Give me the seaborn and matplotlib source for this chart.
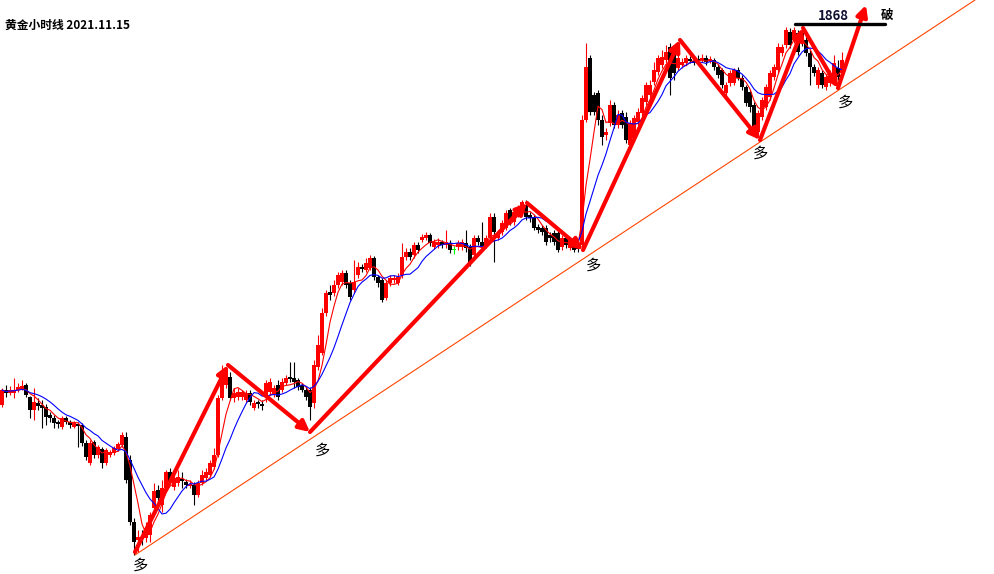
import numpy as np
import pandas as pd
import seaborn as sns
import matplotlib.pyplot as plt

# hourly gold candles (price in USD)
opens = [
    1792.0, 1795.0, 1794.4, 1794.4, 1795.0, 1795.2, 1796.0, 1793.6, 1791.0, 1792.4,
    1792.0, 1791.6, 1790.0, 1789.4, 1788.6, 1787.6, 1789.4, 1788.6, 1787.6, 1788.2,
    1788.0, 1784.4, 1780.4, 1784.6, 1782.0, 1783.2, 1780.4, 1782.0, 1782.4, 1783.2,
    1784.0, 1785.6, 1781.0, 1768.6, 1765.0, 1765.6, 1765.4, 1766.0, 1771.4, 1775.0,
    1772.0, 1775.4, 1778.6, 1775.6, 1776.4, 1777.2, 1776.6, 1775.8, 1776.0, 1774.0,
    1776.4, 1777.4, 1778.0, 1779.6, 1782.0, 1793.4, 1796.0, 1797.6, 1793.4, 1793.6,
    1793.6, 1793.0, 1794.4, 1791.4, 1792.6, 1792.2, 1793.6, 1794.6, 1794.0, 1796.0,
    1795.0, 1796.4, 1797.6, 1797.4, 1797.0, 1796.0, 1795.0, 1795.0, 1792.4, 1799.6,
    1802.4, 1810.4, 1814.6, 1814.4, 1816.0, 1816.6, 1818.4, 1816.4, 1815.0, 1818.0,
    1819.6, 1819.0, 1819.4, 1821.4, 1817.6, 1817.0, 1813.4, 1816.4, 1817.0, 1816.4,
    1818.0, 1821.6, 1822.6, 1822.0, 1824.0, 1825.0, 1825.4, 1826.0, 1823.6, 1824.0,
    1824.6, 1824.0, 1824.4, 1823.0, 1823.6, 1823.6, 1824.4, 1823.6, 1822.0, 1825.4,
    1824.6, 1824.0, 1825.4, 1829.6, 1825.4, 1826.6, 1827.4, 1831.0, 1828.6, 1830.0,
    1831.4, 1832.0, 1830.0, 1829.6, 1827.6, 1827.4, 1827.4, 1826.0, 1826.4, 1826.4,
    1823.6, 1825.4, 1823.4, 1824.6, 1823.6, 1824.0, 1849.0, 1861.4, 1854.0, 1854.4,
    1849.0, 1846.0, 1848.4, 1852.0, 1848.0, 1850.4, 1849.6, 1844.0, 1845.4, 1848.6,
    1850.4, 1852.6, 1854.0, 1856.6, 1858.6, 1860.0, 1861.0, 1863.6, 1862.0, 1859.4,
    1860.0, 1860.4, 1861.2, 1860.8, 1861.2, 1861.0, 1861.4, 1860.8, 1861.0, 1859.6,
    1859.0, 1854.4, 1856.4, 1856.4, 1859.0, 1857.4, 1855.6, 1854.6, 1852.0, 1846.6,
    1849.6, 1851.6, 1853.6, 1857.6, 1859.0, 1862.4, 1864.0, 1866.6, 1865.0, 1866.4,
    1866.4, 1865.0, 1862.4, 1859.6, 1856.0, 1858.4, 1855.6, 1856.4, 1857.4, 1859.4,
    1858.4]
closes = [
    1795.0, 1794.4, 1795.0, 1795.0, 1795.6, 1795.8, 1794.0, 1791.0, 1792.6, 1791.8,
    1791.4, 1789.6, 1789.4, 1788.4, 1788.2, 1789.4, 1788.6, 1788.0, 1788.4, 1787.8,
    1784.4, 1781.6, 1784.4, 1782.0, 1783.6, 1780.4, 1783.0, 1782.6, 1783.4, 1784.2,
    1786.0, 1777.0, 1768.6, 1764.6, 1765.6, 1765.2, 1767.4, 1770.0, 1774.8, 1773.4,
    1775.4, 1778.6, 1776.6, 1777.4, 1777.6, 1776.8, 1776.0, 1776.2, 1774.0, 1776.4,
    1778.0, 1778.6, 1780.4, 1782.0, 1793.4, 1797.4, 1797.6, 1793.4, 1794.4, 1794.6,
    1794.6, 1794.4, 1792.6, 1792.4, 1792.2, 1791.8, 1796.4, 1796.6, 1795.4, 1793.6,
    1796.6, 1797.4, 1797.2, 1796.6, 1795.6, 1795.0, 1793.6, 1791.6, 1800.0, 1804.0,
    1810.4, 1814.4, 1814.0, 1816.0, 1818.0, 1818.4, 1816.0, 1813.6, 1816.6, 1819.6,
    1819.2, 1820.4, 1821.4, 1817.6, 1816.4, 1813.0, 1816.4, 1817.4, 1817.4, 1817.6,
    1821.6, 1822.6, 1821.6, 1824.0, 1823.0, 1825.6, 1826.0, 1824.4, 1824.6, 1824.6,
    1824.0, 1824.6, 1823.0, 1823.0, 1824.4, 1824.6, 1823.4, 1820.4, 1825.4, 1824.6,
    1823.6, 1825.4, 1829.6, 1826.6, 1826.4, 1828.4, 1830.4, 1828.6, 1830.6, 1831.4,
    1832.6, 1829.6, 1829.4, 1827.4, 1827.0, 1826.6, 1824.6, 1825.4, 1824.6, 1823.0,
    1825.4, 1824.0, 1825.0, 1823.0, 1823.2, 1849.0, 1859.6, 1850.6, 1850.6, 1849.0,
    1845.6, 1846.6, 1852.0, 1848.0, 1850.0, 1848.0, 1845.0, 1848.4, 1849.4, 1850.6,
    1853.4, 1856.0, 1856.0, 1859.0, 1861.4, 1861.6, 1862.6, 1857.4, 1858.4, 1861.4,
    1860.6, 1861.4, 1860.8, 1860.4, 1860.8, 1861.4, 1860.6, 1861.2, 1859.6, 1858.0,
    1856.0, 1856.0, 1858.4, 1859.0, 1857.4, 1855.6, 1852.4, 1851.6, 1847.6, 1850.4,
    1853.0, 1855.6, 1858.4, 1859.6, 1863.6, 1863.6, 1867.0, 1864.0, 1867.0, 1862.6,
    1864.4, 1862.4, 1859.6, 1858.4, 1859.0, 1856.0, 1857.6, 1858.4, 1860.4, 1857.6,
    1861.0]
highs = [
    1795.4, 1796.0, 1795.8, 1797.4, 1796.4, 1797.0, 1796.4, 1793.8, 1795.4, 1793.4,
    1793.0, 1792.2, 1790.6, 1790.0, 1789.0, 1789.8, 1789.8, 1789.0, 1788.8, 1788.6,
    1788.4, 1785.0, 1785.0, 1785.0, 1784.0, 1783.6, 1783.4, 1783.0, 1783.8, 1784.6,
    1786.6, 1786.6, 1782.0, 1769.4, 1767.0, 1767.0, 1768.6, 1770.6, 1776.4, 1776.0,
    1777.0, 1779.0, 1779.4, 1778.0, 1779.0, 1778.6, 1777.2, 1777.0, 1776.6, 1777.0,
    1779.0, 1779.4, 1781.0, 1783.4, 1794.0, 1800.0, 1798.6, 1798.6, 1795.4, 1795.4,
    1795.0, 1795.0, 1795.0, 1793.0, 1793.0, 1793.0, 1797.0, 1797.4, 1796.0, 1797.0,
    1797.4, 1798.0, 1800.6, 1800.6, 1797.4, 1796.4, 1795.8, 1795.6, 1801.0, 1806.0,
    1811.4, 1815.0, 1816.0, 1817.0, 1818.6, 1819.0, 1819.0, 1817.0, 1821.0, 1820.6,
    1820.2, 1821.4, 1822.0, 1821.8, 1818.0, 1817.4, 1817.0, 1818.0, 1818.0, 1818.4,
    1824.4, 1823.4, 1823.4, 1824.6, 1824.6, 1826.2, 1826.6, 1826.4, 1825.2, 1825.4,
    1825.0, 1827.0, 1825.0, 1823.8, 1825.0, 1825.2, 1827.0, 1824.2, 1826.0, 1826.0,
    1828.6, 1826.0, 1830.4, 1830.4, 1827.0, 1829.0, 1831.0, 1831.4, 1831.0, 1832.0,
    1833.0, 1833.0, 1830.6, 1830.0, 1828.2, 1828.0, 1828.0, 1826.6, 1827.0, 1827.0,
    1826.0, 1826.0, 1825.6, 1825.0, 1824.2, 1850.0, 1864.4, 1862.0, 1854.6, 1855.0,
    1850.0, 1847.4, 1853.0, 1852.6, 1851.0, 1851.0, 1850.6, 1849.0, 1850.0, 1851.4,
    1854.0, 1856.6, 1857.0, 1860.6, 1862.0, 1863.0, 1864.0, 1864.4, 1862.6, 1862.0,
    1861.4, 1862.0, 1861.8, 1861.4, 1862.0, 1862.2, 1862.0, 1861.8, 1861.4, 1860.2,
    1859.4, 1856.6, 1859.0, 1859.4, 1859.6, 1858.0, 1856.0, 1855.0, 1852.6, 1851.0,
    1853.6, 1856.2, 1859.0, 1860.2, 1864.4, 1864.2, 1867.6, 1867.4, 1867.6, 1867.0,
    1867.0, 1865.6, 1863.0, 1860.2, 1859.6, 1859.0, 1858.2, 1859.0, 1862.0, 1861.0,
    1862.6]
lows = [
    1791.6, 1793.6, 1794.0, 1793.4, 1794.6, 1795.0, 1793.6, 1789.4, 1789.0, 1791.0,
    1787.4, 1788.0, 1788.6, 1787.4, 1787.4, 1787.2, 1788.2, 1787.4, 1787.4, 1783.6,
    1783.8, 1781.0, 1780.0, 1781.4, 1781.4, 1779.4, 1780.0, 1781.6, 1782.0, 1782.8,
    1783.6, 1776.4, 1768.0, 1762.0, 1762.6, 1764.0, 1764.6, 1764.6, 1771.0, 1772.0,
    1770.6, 1775.0, 1776.2, 1775.0, 1775.8, 1775.4, 1775.4, 1775.4, 1772.0, 1773.6,
    1776.0, 1777.0, 1777.6, 1779.2, 1781.6, 1793.0, 1795.4, 1793.0, 1792.6, 1793.0,
    1793.0, 1792.6, 1792.0, 1791.0, 1791.4, 1791.0, 1792.6, 1794.0, 1793.6, 1793.0,
    1794.6, 1796.0, 1796.6, 1795.4, 1795.0, 1794.6, 1793.0, 1789.0, 1791.4, 1799.0,
    1802.0, 1809.8, 1813.0, 1813.8, 1815.4, 1816.0, 1815.4, 1813.0, 1814.4, 1817.4,
    1818.6, 1818.6, 1819.0, 1817.0, 1815.6, 1812.6, 1813.0, 1815.8, 1816.4, 1816.0,
    1817.4, 1821.0, 1821.0, 1821.4, 1822.4, 1824.6, 1825.0, 1823.8, 1823.2, 1823.4,
    1823.4, 1823.4, 1822.4, 1822.2, 1823.0, 1823.0, 1822.6, 1819.8, 1821.6, 1824.0,
    1823.0, 1823.4, 1825.0, 1820.6, 1825.0, 1826.0, 1827.0, 1828.0, 1828.0, 1829.6,
    1831.0, 1829.0, 1828.6, 1827.0, 1826.4, 1826.0, 1824.0, 1824.6, 1824.0, 1822.6,
    1823.0, 1823.4, 1823.0, 1822.6, 1822.6, 1823.0, 1848.6, 1850.0, 1850.0, 1848.0,
    1844.0, 1845.0, 1847.8, 1847.4, 1847.4, 1847.4, 1844.4, 1843.0, 1844.6, 1848.0,
    1849.8, 1852.0, 1853.4, 1856.0, 1858.0, 1859.4, 1860.4, 1854.0, 1857.0, 1859.0,
    1859.4, 1860.0, 1860.4, 1860.0, 1860.4, 1860.6, 1860.0, 1860.4, 1859.0, 1857.4,
    1855.4, 1853.8, 1855.8, 1856.0, 1857.0, 1855.0, 1851.8, 1850.6, 1846.6, 1845.6,
    1849.0, 1851.0, 1853.0, 1857.0, 1858.4, 1861.8, 1863.4, 1863.4, 1864.4, 1862.0,
    1863.8, 1861.8, 1856.0, 1857.8, 1855.4, 1855.4, 1855.0, 1855.8, 1857.0, 1857.0,
    1857.8]

# hand-drawn wave arrows (turning points: candle position, price)
wave_pos = [33.25, 56.5, 77, 131.25, 145.25, 169.5, 189.5, 200.25, 209, 216]
wave_price = [1762.6, 1800.0, 1786.6, 1832.4, 1823.0, 1865.0, 1845.0, 1867.4, 1855.4, 1872.0]
# rising support line
trend_pos = [33.25, 243.25]
trend_price = [1762.0, 1873.0]
# "多" labels under each low
duo_pos = [34.5, 80, 147.75, 189.5, 210.75]
duo_price = [1760.0, 1783.0, 1820.0, 1842.4, 1852.6]
# resistance level
resist_level = 1868
resist_pos = [198.25, 220.75]

df = pd.DataFrame({"open": opens, "close": closes, "high": highs, "low": lows})
df["pos"] = np.arange(len(df))
df["ma5"] = df.close.rolling(5, min_periods=1).mean()
df["ma10"] = df.close.rolling(10, min_periods=1).mean()
df["color"] = np.where(df.close > df.open, "#FF0000",
                       np.where(df.close < df.open, "#000000", "#00FF00"))

sns.set_style("white")
plt.rcParams["font.family"] = ["Noto Sans CJK SC", "DejaVu Sans"]

fig = plt.figure(figsize=(9.94, 5.74), dpi=100)
ax = fig.add_axes([0, 0, 1, 1])

# candles
ax.vlines(df.pos, df.low, df.high, colors=df.color, linewidth=0.8, zorder=2)
body = np.maximum((df.close - df.open).abs(), 0.25)
ax.bar(df.pos, body, bottom=np.minimum(df.open, df.close), width=0.8,
       color=df.color, linewidth=0, zorder=3)

# moving averages
sns.lineplot(data=df, x="pos", y="ma5", color="#FF0000", linewidth=0.8, ax=ax, zorder=4)
sns.lineplot(data=df, x="pos", y="ma10", color="#0000FF", linewidth=0.8, ax=ax, zorder=4)

# trend line
ax.plot(trend_pos, trend_price, color="#FF4500", linewidth=0.8, zorder=5)

# wave arrows
for i in range(len(wave_pos) - 1):
    ax.annotate("", xy=(wave_pos[i + 1], wave_price[i + 1]),
                xytext=(wave_pos[i], wave_price[i]),
                arrowprops=dict(arrowstyle="-|>", color="#FF0000", lw=3,
                                mutation_scale=16, shrinkA=0, shrinkB=0),
                zorder=6)

for p, v in zip(duo_pos, duo_price):
    ax.text(p, v, "多", fontsize=11, ha="center", va="center", color="black", zorder=7)

ax.plot(resist_pos, [resist_level + 0.2] * 2, color="black", linewidth=2.4, zorder=7)
ax.text(207.75, resist_level + 1.8, str(resist_level), fontsize=9.5,
        fontweight="bold", ha="center", va="center", color="#111133")
ax.text(221.25, resist_level + 2.0, "破", fontsize=9, fontweight="bold",
        ha="center", va="center", color="black")

ax.text(5 / 994, 1 - 25 / 574, "黄金小时线 2021.11.15", transform=ax.transAxes,
        fontsize=8.5, fontweight="bold", ha="left", va="center", color="black")

ax.set_xlim(-0.5, 248)
ax.set_ylim(1758.2, 1873)
ax.set_axis_off()

fig.savefig("out.png", dpi=100, facecolor="white")
